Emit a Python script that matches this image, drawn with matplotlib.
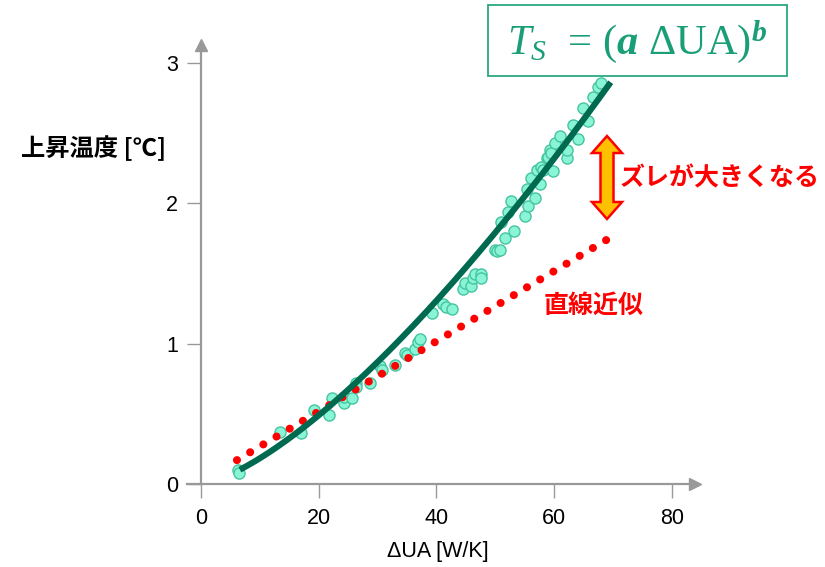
import matplotlib
matplotlib.use('Agg')
import matplotlib.pyplot as plt
import numpy as np
from matplotlib.patches import Rectangle, Polygon

# measured points: dUA [W/K] vs temperature rise [C]
dua = [6.3, 6.4, 13.4, 16.9, 19.2, 21.8, 22.2, 24.3, 24.3, 25.7, 26.3, 26.4,
       28.7, 30.4, 30.7, 32.9, 34.6, 35.0, 36.3, 36.9, 37.2, 39.2, 41.1, 41.7,
       42.6, 44.5, 44.8, 45.9, 46.2, 46.5, 47.6, 47.6, 49.9, 50.2, 50.8, 51.0,
       51.6, 52.2, 52.7, 53.2, 55.0, 55.3, 55.6, 56.1, 56.7, 57.0, 57.6, 57.8,
       58.1, 58.7, 59.0, 59.3, 59.5, 59.8, 60.1, 60.9, 62.1, 62.1, 63.2, 64.0,
       64.9, 65.8, 66.6, 67.4, 68.0]
temp_rise = [0.10, 0.08, 0.37, 0.36, 0.53, 0.49, 0.61, 0.58, 0.62, 0.61, 0.72, 0.69,
             0.72, 0.84, 0.81, 0.85, 0.93, 0.92, 0.96, 1.01, 1.03, 1.22, 1.28, 1.26,
             1.25, 1.39, 1.43, 1.41, 1.47, 1.50, 1.50, 1.47, 1.67, 1.66, 1.67, 1.87,
             1.75, 1.94, 2.02, 1.80, 1.91, 2.10, 1.98, 2.18, 2.04, 2.24, 2.14, 2.26,
             2.24, 2.32, 2.33, 2.38, 2.36, 2.23, 2.43, 2.48, 2.32, 2.38, 2.56, 2.46,
             2.68, 2.59, 2.76, 2.83, 2.86]

# power fit T = (a dUA)^b
fit_a = 0.0302
fit_b = 1.416
fit_range = [6.6, 69.6]

# straight-line approximation (end points)
lin_x = [6.1, 69.3]
lin_y = [0.17, 1.75]

x_ticks = [0, 20, 40, 60, 80]
y_ticks = [0, 1, 2, 3]

W, H = 825, 567
gray = '#999999'
teal = '#1a9e78'

plt.rcParams['font.family'] = ['Liberation Sans', 'Noto Sans CJK JP']
plt.rcParams['mathtext.fontset'] = 'custom'
plt.rcParams['mathtext.rm'] = 'Liberation Serif'
plt.rcParams['mathtext.it'] = 'Liberation Serif:italic'
plt.rcParams['mathtext.bf'] = 'Liberation Serif:italic:bold'

fig = plt.figure(figsize=(8.25, 5.67), dpi=100)
ax = fig.add_axes([0.2262, 0.1464, 0.6168, 0.7746])

ax.scatter(dua, temp_rise, s=64, facecolor='#8af5d6', edgecolor='#45c4a0',
           linewidth=1, zorder=2)
ax.plot(lin_x, lin_y, color='#ff0000', lw=5.8, ls=(0, (0.01, 1.895)),
        dash_capstyle='round', zorder=3)
cx = np.linspace(fit_range[0], fit_range[1], 200)
ax.plot(cx, (fit_a * cx) ** fit_b, color='#006a50', lw=4.4,
        solid_capstyle='butt', zorder=4)

ax.set_xlim(-2.45, 84)
ax.set_ylim(0, 3.13)
ax.set_xticks(x_ticks)
ax.set_yticks(y_ticks)

for side in ['top', 'right']:
    ax.spines[side].set_visible(False)
ax.spines['left'].set_position(('data', 0))
for side in ['left', 'bottom']:
    ax.spines[side].set_color(gray)
    ax.spines[side].set_linewidth(1.6)
ax.tick_params(axis='x', direction='out', length=10, width=1, color=gray,
               pad=7, labelsize=15.5)
ax.tick_params(axis='y', direction='out', length=10, width=1, color=gray,
               pad=6.5, labelsize=15.5)
ax.patch.set_alpha(0)

# arrow heads on the axes
ax.plot(1, 0, '>', color=gray, ms=9, transform=ax.get_yaxis_transform(), clip_on=False)
ax.plot(0, 1, '^', color=gray, ms=9, transform=ax.get_xaxis_transform(), clip_on=False)


def px(x, y):
    return (x / W, 1 - y / H)


fig.text(*px(438, 551), '\u0394UA [W/K]', ha='center', va='center', fontsize=15.5)
fig.text(*px(94, 148), '上昇温度 [℃]', ha='center', va='center', fontsize=17.5,
         fontweight='bold', family=['Noto Sans CJK JP', 'DejaVu Sans'])

fig.text(*px(720, 178), 'ズレが大きくなる', ha='center', va='center', fontsize=18,
         fontweight='bold', color='#ff0000', family=['Noto Sans CJK JP', 'DejaVu Sans'])
fig.text(*px(594, 306), '直線近似', ha='center', va='center', fontsize=18,
         fontweight='bold', color='#ff0000', family=['Noto Sans CJK JP', 'DejaVu Sans'])

# double arrow
acx, atop, abot = 607, 136, 219
sw, hw, hl = 6.5, 15, 17
verts = [(acx, atop), (acx + hw, atop + hl), (acx + sw, atop + hl),
         (acx + sw, abot - hl), (acx + hw, abot - hl), (acx, abot),
         (acx - hw, abot - hl), (acx - sw, abot - hl), (acx - sw, atop + hl),
         (acx - hw, atop + hl)]
fig.patches.append(Polygon([px(*v) for v in verts], closed=True, facecolor='#ffc000',
                           edgecolor='#ff0000', linewidth=1.8, transform=fig.transFigure,
                           joinstyle='miter'))

# equation box
x0, y0 = px(488, 76)
x1, y1 = px(787, 5)
fig.patches.append(Rectangle((x0, y0), x1 - x0, y1 - y0, facecolor='white',
                             edgecolor='#2aa882', linewidth=1.3, transform=fig.transFigure))
fig.text(*px(637, 42), r'$T_S\ \,=\,(\mathbf{a}\ \Delta\mathrm{UA})^{\mathbf{b}}$',
         ha='center', va='center', fontsize=30.5, color=teal)

fig.savefig('out.png', dpi=100)
